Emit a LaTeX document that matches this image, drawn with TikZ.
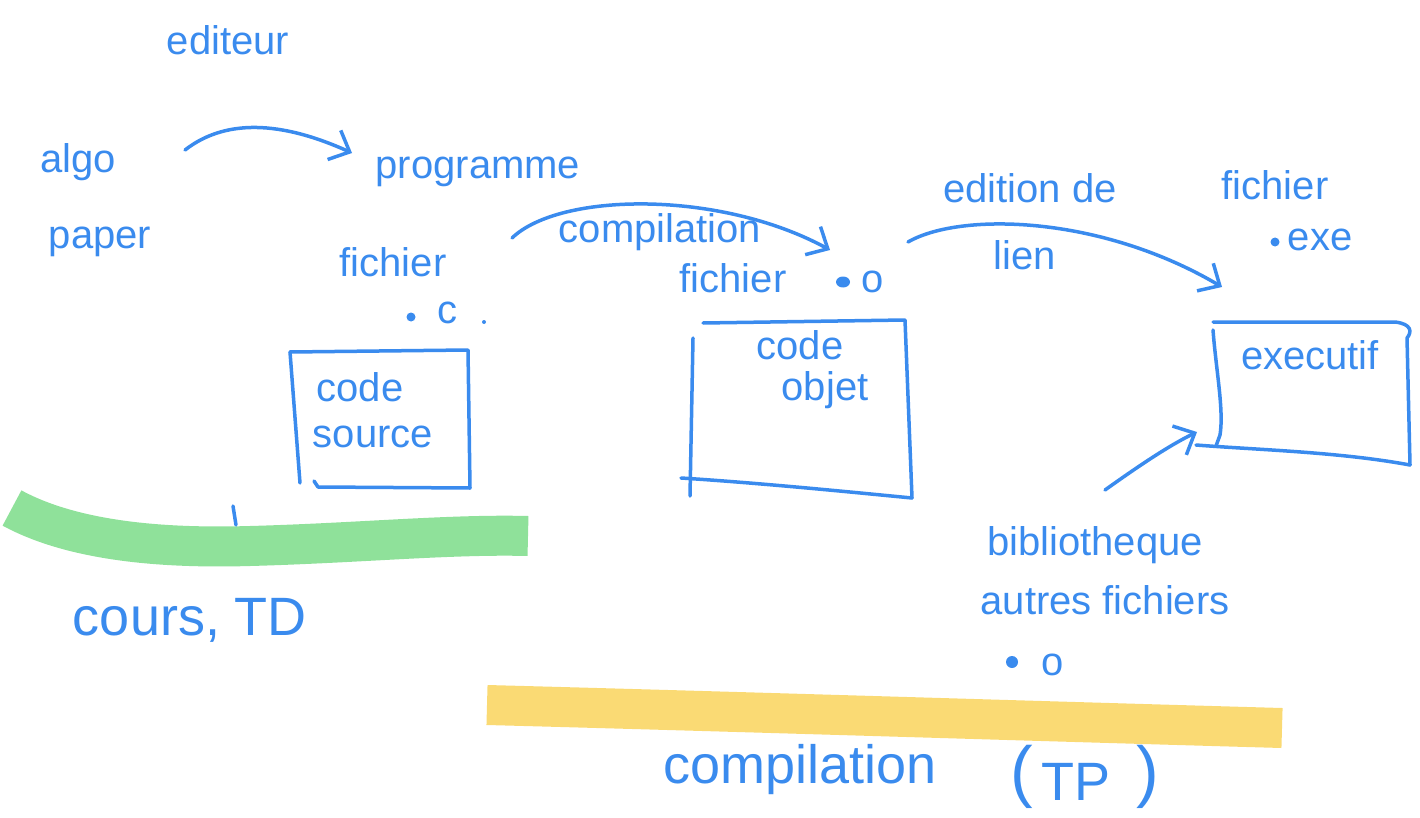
\documentclass[tikz,border=0pt]{standalone}
\usepackage{fontspec}
\setmainfont{Liberation Sans}
\usetikzlibrary{arrows.meta}
\definecolor{ink}{HTML}{3A8BEE}
\definecolor{hlgreen}{HTML}{7BDC88}
\definecolor{hlyellow}{HTML}{F9D45C}
\tikzset{
  hand/.style={text=ink, inner sep=0pt, font=\fontsize{40}{44}\selectfont},
  bighand/.style={text=ink, inner sep=0pt, font=\fontsize{54}{60}\selectfont},
  paren/.style={text=ink, inner sep=0pt, font=\fontsize{68}{74}\selectfont},
  stroke/.style={draw=ink, line width=3.5pt, line cap=round, line join=round},
  flow/.style={stroke, -{Straight Barb[length=17pt,width=32pt,line width=3.5pt]}},
  marker/.style={line width=40pt, line cap=butt, opacity=0.85},
  dotmark/.style={fill=ink, draw=none}
}
\begin{document}
\begin{tikzpicture}[x=1pt,y=-1pt]
\useasboundingbox (0,0) rectangle (1420,818);

% highlighter bands
\draw[marker, hlgreen] (12,508) .. controls (80,545) and (180,548) .. (250,546)
  .. controls (360,543) and (450,534) .. (528,536);
\draw[marker, hlyellow] (487,705) .. controls (750,712) and (1000,720) .. (1282,728);

% left column
\node[hand] (editeur) at (228,40) {editeur};
\node[hand] (algo) at (78,162) {algo};
\node[hand] (paper) at (100,242) {paper};
\node[hand] (programme) at (478,172) {programme};
\node[hand] (fichierc) at (393,262) {fichier};
\fill[dotmark] (411,317) circle (4.5pt);
\node[hand] (extc) at (447,313) {c};
\fill[dotmark] (484,322) circle (2pt);

% source code box
\node[hand] (code1) at (360,387) {code};
\node[hand] (source) at (373,437) {source};
\draw[stroke] (290,352) -- (468,350) -- (470,488) -- (318,487) -- (314,481);
\draw[stroke] (290,352) -- (300,483);
\draw[stroke] (233,506) -- (236,525);

\node[bighand] (cours) at (190,620) {cours, TD};

% object file
\node[hand] (complabel) at (660,232) {compilation};
\node[hand] (fichiero) at (733,278) {fichier};
\fill[dotmark] (843,282) ellipse (7pt and 5.5pt);
\node[hand] (exto) at (873,282) {o};
\node[hand] (code2) at (800,345) {code};
\node[hand] (objet) at (825,390) {objet};
\draw[stroke] (703,323) -- (905,320) -- (912,498);
\draw[stroke] (693,338) -- (690,496);
\draw[stroke] (681,478) .. controls (760,483) and (850,492) .. (912,498);

% executable
\node[hand] (edition) at (1030,188) {edition de};
\node[hand] (lien) at (1025,255) {lien};
\node[hand] (fichierexe) at (1275,185) {fichier};
\fill[dotmark] (1275,242) circle (4.5pt);
\node[hand] (extexe) at (1320,240) {exe};
\node[hand] (executif) at (1310,355) {executif};
\draw[stroke] (1213,322) -- (1395,322) .. controls (1412,324) and (1412,332) .. (1407,338)
  -- (1410,465);
\draw[stroke] (1213,330) .. controls (1216,370) and (1224,410) .. (1220,435) -- (1216,446);
\draw[stroke] (1196,445) .. controls (1260,450) and (1340,452) .. (1410,465);

% libraries
\node[hand] (biblio) at (1095,545) {bibliotheque};
\node[hand] (autres) at (1105,600) {autres fichiers};
\fill[dotmark] (1012,662) circle (6pt);
\node[hand] (extlib) at (1053,665) {o};

% bottom caption
\node[bighand] (compbottom) at (800,770) {compilation};
\node[paren] (lpar) at (1022,777) {(};
\node[bighand] (tp) at (1076,782) {TP};
\node[paren] (rpar) at (1148,777) {)};

% connectors
\coordinate (s1) at (185,150);
\coordinate (e1) at (352,153);
\coordinate (s2) at (512,238);
\coordinate (e2) at (830,250);
\coordinate (s3) at (908,242);
\coordinate (e3) at (1222,287);
\coordinate (s4) at (1105,490);
\coordinate (e4) at (1197,432);
\draw[flow] (s1) .. controls (230,115) and (290,125) .. (e1);
\draw[flow] (s2) .. controls (560,192) and (720,190) .. (e2);
\draw[flow] (s3) .. controls (960,212) and (1100,215) .. (e3);
\draw[flow] (s4) .. controls (1140,465) and (1170,445) .. (e4);
\end{tikzpicture}
\end{document}
